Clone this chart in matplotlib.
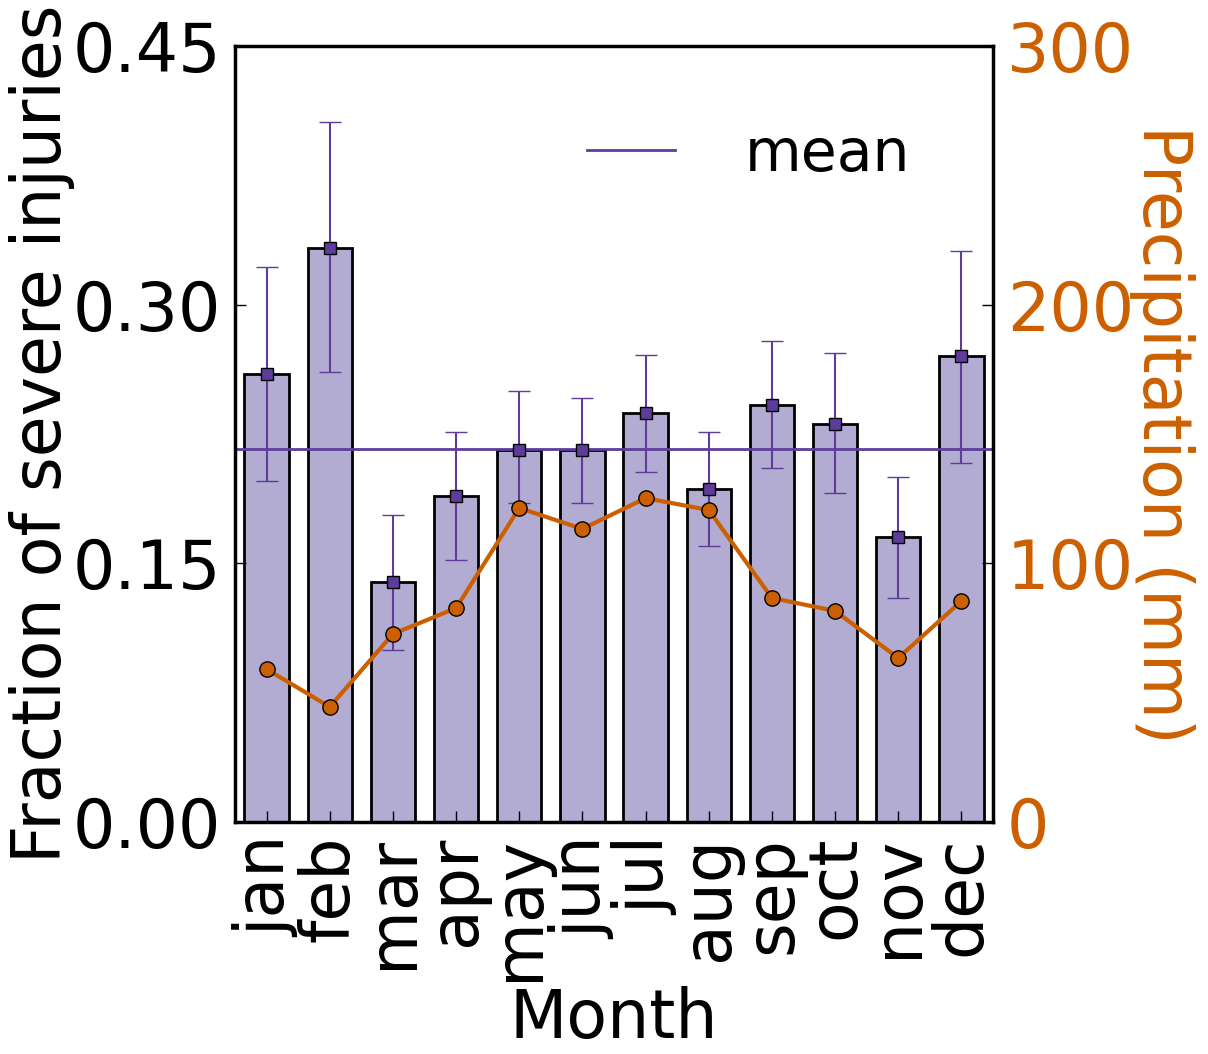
import matplotlib
matplotlib.use("Agg")
import matplotlib.pyplot as plt
import numpy as np

# monthly data
months = ["jan", "feb", "mar", "apr", "may", "jun",
          "jul", "aug", "sep", "oct", "nov", "dec"]
frac = [0.260, 0.333, 0.139, 0.189, 0.216, 0.216,
        0.237, 0.193, 0.242, 0.231, 0.165, 0.270]
err_hi = [0.322, 0.406, 0.178, 0.226, 0.250, 0.246,
          0.271, 0.226, 0.279, 0.272, 0.200, 0.331]
err_lo = [0.198, 0.261, 0.100, 0.152, 0.185, 0.185,
          0.203, 0.160, 0.205, 0.191, 0.130, 0.208]
precip = [59.1, 44.5, 72.7, 82.7, 121.4, 113.3,
          125.2, 120.6, 86.6, 81.6, 63.4, 85.4]
mean_frac = 0.2163

purple = "#5e3c99"
lavender = "#b2abd2"
orange = "#cc6000"

plt.rcParams["font.family"] = "DejaVu Sans"
plt.rcParams["font.size"] = 48

fig = plt.figure(figsize=(12.08, 10.54), dpi=100)
ax = fig.add_axes([235 / 1208, 1 - 822 / 1054, 758 / 1208, 776 / 1054])

x = np.arange(len(months))
frac = np.array(frac)
yerr = [frac - np.array(err_lo), np.array(err_hi) - frac]

ax.bar(x, frac, width=0.7, color=lavender, edgecolor="black", linewidth=2)
ax.errorbar(x, frac, yerr=yerr, fmt="s", color=purple, ms=9,
            mec="black", mew=1, elinewidth=1.5, capsize=8, capthick=1.5,
            ecolor=purple)
ax.axhline(mean_frac, color=purple, lw=2, label="mean")

ax.set_xlim(-0.5, 11.5)
ax.set_ylim(0, 0.45)
ax.set_yticks([0, 0.15, 0.30, 0.45])
ax.set_yticklabels(["0.00", "0.15", "0.30", "0.45"])
ax.set_xticks(x)
ax.set_xticklabels(months, rotation=90)
ax.tick_params(direction="in", length=8, width=1, pad=10)
ax.set_ylabel("Fraction of severe injuries", labelpad=-2)
ax.set_xlabel("Month", labelpad=4)
for s in ax.spines.values():
    s.set_linewidth(2.5)

ax.legend(loc="upper right", frameon=False, handlelength=1.5,
          handletextpad=1.2, fontsize=42, bbox_to_anchor=(0.96, 0.965))

ax2 = ax.twinx()
ax2.plot(x, precip, "-o", color=orange, lw=3, ms=11, mec="black", mew=1)
ax2.set_ylim(0, 300)
ax2.set_yticks([0, 100, 200, 300])
ax2.tick_params(direction="in", length=8, width=1, colors=orange, pad=10)
ax2.tick_params(axis="y", color="black")
ax2.set_ylabel("Precipitation (mm)", color=orange, rotation=270, labelpad=44)

fig.savefig("out.png", dpi=100)
